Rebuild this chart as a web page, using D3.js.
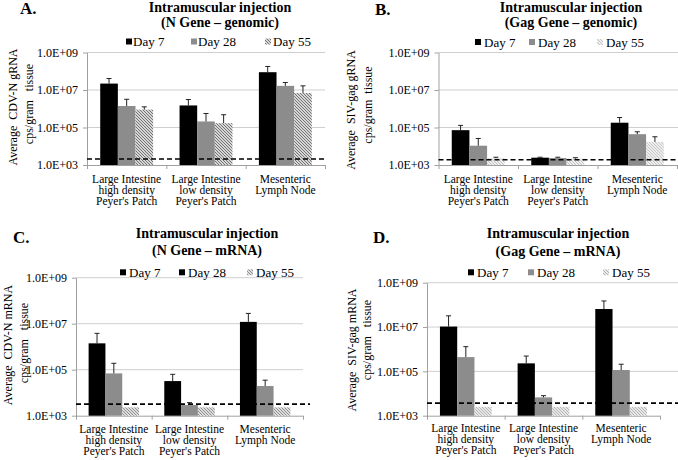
<!DOCTYPE html>
<html><head><meta charset="utf-8">
<script src="https://cdn.jsdelivr.net/npm/d3@7"></script>
<style>
body{margin:0;background:#fff;}
svg{display:block;}
</style></head><body>
<svg id="c" width="678" height="460"></svg>
<script>
const categories = [["Large Intestine","high density","Peyer's Patch"],["Large Intestine","low density","Peyer's Patch"],["Mesenteric","Lymph Node"]];
const seriesNames = ["Day 7","Day 28","Day 55"];
const tickValues = [1e3,1e5,1e7,1e9];
const tickLabels = ["1.0E+03","1.0E+05","1.0E+07","1.0E+09"];
const panelLetters = ["A.","B.","C.","D."];
const titleLine1 = ["Intramuscular injection","Intramuscular injection","Intramuscular injection","Intramuscular injection"];
const titleLine2 = ["(N Gene \u2013 genomic)","(Gag Gene \u2013 genomic)","(N Gene \u2013 mRNA)","(Gag Gene \u2013 mRNA)"];
const yLabelLine1 = ["Average  CDV-N gRNA","Average  SIV-gag gRNA","Average  CDV-N mRNA","Average  SIV-gag mRNA"];
const yLabelLine2 = ["cps/gram   tissue","cps/gram  tissue","cps/gram   tissue","cps/gram   tissue"];
// values: [series][category]
const valuesA = [[2.2e7,1.5e6,8.9e7],[1.4e6,2.1e5,1.66e7],[9.0e5,1.7e5,7.0e6]];
const errorsA = [[4.1e7,3.1e6,1.8e8],[3.2e6,5.6e5,2.5e7],[1.26e6,4.8e5,1.66e7]];
const valuesB = [[7.2e4,2.45e3,1.8e5],[1.07e4,2.35e3,4.4e4],[2.3e3,2.2e3,1.7e4]];
const errorsB = [[1.3e5,2.6e3,3.4e5],[2.6e4,2.6e3,5.9e4],[2.6e3,2.45e3,3.2e4]];
const valuesC = [[1.4e6,3.2e4,1.2e7],[6.9e4,2.9e3,1.95e4],[2.3e3,2.3e3,2.3e3]];
const errorsC = [[3.8e6,6.3e4,2.8e7],[1.9e5,3.7e3,3.5e4],[null,null,null]];
const valuesD = [[1.05e7,2.3e5,6.5e7],[4.4e5,6.7e3,1.15e5],[2.5e3,2.5e3,2.5e3]];
const errorsD = [[3.2e7,4.9e5,1.5e8],[1.3e6,8.0e3,2.1e5],[null,null,null]];
const detectionLimits = [2.1e3,1.9e3,3.2e3,3.7e3];

const panelValues = [valuesA,valuesB,valuesC,valuesD];
const panelErrors = [errorsA,errorsB,errorsC,errorsD];

// layout (positions/styles)
const layouts = [
  {x0:87, x1:325, yTop:52.5, yBot:165, gridR:325, dashR:325, letter:[20,14], titleX:220, t1:11.5, t2:27,
   legY:41.5, leg:[[129,133],[194,198],[268,273]], legSw:["#000","#8c8c8c","h0"],
   yl1:[13,107], yl2:[29,104], catY:182.5, hatch:"#6e6e6e"},
  {x0:438.5, x1:677, yTop:52.5, yBot:165, gridR:678, dashR:678, letter:[375,15], titleX:571, t1:11.5, t2:27,
   legY:42, leg:[[478,484],[532,538],[600,606]], legSw:["#000","#8c8c8c","h1"],
   yl1:[351,110], yl2:[368,105], catY:182.5, hatch:"#c4c4c4"},
  {x0:76, x1:303, yTop:277.7, yBot:415.7, gridR:303, dashR:310, letter:[13,243], titleX:207, t1:238, t2:255,
   legY:272.3, leg:[[123,129],[182,188],[250,256]], legSw:["#000","#000","h2"],
   yl1:[8,345], yl2:[24,343], catY:432.5, hatch:"#8a8a8a"},
  {x0:427, x1:660, yTop:282.7, yBot:415.7, gridR:678, dashR:678, letter:[373,243], titleX:558, t1:238, t2:256,
   legY:272.3, leg:[[471,477],[531,537],[606,612]], legSw:["#000","#8c8c8c","h3"],
   yl1:[352,350], yl2:[367,340], catY:431.5, hatch:"#b0b0b0"}
];
const barColors = ["#000000","#8c8c8c"];

const svg = d3.select("#c");
svg.append("rect").attr("width",678).attr("height",460).attr("fill","#fff");
const defs = svg.append("defs");
layouts.forEach((L,i)=>{
  const p = defs.append("pattern").attr("id","h"+i).attr("patternUnits","userSpaceOnUse")
    .attr("width",3).attr("height",3);
  p.append("rect").attr("width",3).attr("height",3).attr("fill","#fff");
  p.append("path").attr("d","M-1,-1 L4,4 M-1,2 L1,4 M2,-1 L4,1")
    .attr("stroke",L.hatch).attr("stroke-width",1.1);
});

layouts.forEach((L,pi)=>{
  const g = svg.append("g");
  const vals = panelValues[pi], errs = panelErrors[pi];
  const y = d3.scaleLog().domain([1e3,1e9]).range([L.yBot,L.yTop]);
  const x = d3.scaleBand().domain(d3.range(categories.length)).range([L.x0,L.x1]).padding(0);
  const bw = x.bandwidth();
  const xs = d3.scaleBand().domain(d3.range(seriesNames.length)).range([bw/6,bw*5/6]).padding(0);

  // gridlines
  g.append("g").selectAll("line").data(tickValues.slice(1)).join("line")
    .attr("x1",L.x0).attr("x2",L.gridR).attr("y1",d=>y(d)).attr("y2",d=>y(d))
    .attr("stroke","#cfcfcf").attr("stroke-width",1);

  // y axis
  const ya = g.append("g").attr("transform",`translate(${L.x0},0)`)
    .call(d3.axisLeft(y).tickValues(tickValues).tickFormat((d,i)=>tickLabels[i]).tickSizeInner(4).tickSizeOuter(0).tickPadding(5));
  ya.select(".domain").attr("stroke","#a0a0a0");
  ya.selectAll(".tick line").attr("stroke","#a0a0a0");
  ya.selectAll(".tick text").attr("font-size",12).attr("fill","#000");

  // x axis (boundary ticks)
  const xl = d3.scaleLinear().domain([0,categories.length]).range([L.x0,L.x1]);
  const xa = g.append("g").attr("transform",`translate(0,${L.yBot})`)
    .call(d3.axisBottom(xl).tickValues(d3.range(categories.length+1)).tickFormat("").tickSizeInner(4).tickSizeOuter(0));
  xa.select(".domain").attr("stroke","#a0a0a0");
  xa.selectAll(".tick line").attr("stroke","#a0a0a0");

  // category labels
  categories.forEach((lines,ci)=>{
    const t = g.append("text").attr("text-anchor","middle").attr("font-size",11.5).attr("fill","#000");
    lines.forEach((ln,li)=>{
      t.append("tspan").attr("x",x(ci)+bw/2).attr("y",L.catY+li*11.2).text(ln);
    });
  });

  // bars
  seriesNames.forEach((s,si)=>{
    const fill = si<2 ? barColors[si] : `url(#h${pi})`;
    g.append("g").selectAll("rect").data(vals[si]).join("rect")
      .attr("x",(d,ci)=>x(ci)+xs(si)).attr("width",xs.bandwidth())
      .attr("y",d=>y(d)).attr("height",d=>L.yBot-y(d))
      .attr("fill",fill);
  });
  // error bars
  seriesNames.forEach((s,si)=>{
    errs[si].forEach((e,ci)=>{
      if(e==null) return;
      const cx = x(ci)+xs(si)+xs.bandwidth()/2;
      const col = "#222";
      g.append("line").attr("x1",cx).attr("x2",cx).attr("y1",y(vals[si][ci])).attr("y2",y(e))
        .attr("stroke",col).attr("stroke-width",1);
      g.append("line").attr("x1",cx-2.5).attr("x2",cx+2.5).attr("y1",y(e)).attr("y2",y(e))
        .attr("stroke",col).attr("stroke-width",1);
    });
  });

  // detection limit
  g.append("line").attr("x1",L.x0).attr("x2",L.dashR)
    .attr("y1",y(detectionLimits[pi])).attr("y2",y(detectionLimits[pi]))
    .attr("stroke","#000").attr("stroke-width",1.6).attr("stroke-dasharray","5,3");

  // legend
  seriesNames.forEach((s,si)=>{
    const [mx,tx] = L.leg[si];
    const sw = L.legSw[si];
    g.append("rect").attr("x",mx-3).attr("y",L.legY-3).attr("width",6).attr("height",6)
      .attr("fill", sw.startsWith("h") ? `url(#h${pi})` : sw);
    g.append("text").attr("x",tx).attr("y",L.legY).attr("dominant-baseline","central")
      .attr("font-size",13).attr("fill","#000").text(s);
  });

  // titles
  g.append("text").attr("x",L.letter[0]).attr("y",L.letter[1]).attr("font-size",17).attr("font-weight","bold").text(panelLetters[pi]);
  g.append("text").attr("x",L.titleX).attr("y",L.t1).attr("text-anchor","middle").attr("font-size",14).attr("font-weight","bold").text(titleLine1[pi]);
  g.append("text").attr("x",L.titleX).attr("y",L.t2).attr("text-anchor","middle").attr("font-size",14).attr("font-weight","bold").text(titleLine2[pi]);

  // y label
  g.append("text").attr("transform",`translate(${L.yl1[0]},${L.yl1[1]}) rotate(-90)`)
    .attr("text-anchor","middle").attr("dominant-baseline","central").attr("font-size",12)
    .style("white-space","pre").text(yLabelLine1[pi]);
  g.append("text").attr("transform",`translate(${L.yl2[0]},${L.yl2[1]}) rotate(-90)`)
    .attr("text-anchor","middle").attr("dominant-baseline","central").attr("font-size",12)
    .style("white-space","pre").text(yLabelLine2[pi]);
});
svg.selectAll("text").style("font-family",'"Liberation Serif", "Times New Roman", monospace');
</script>
</body></html>
